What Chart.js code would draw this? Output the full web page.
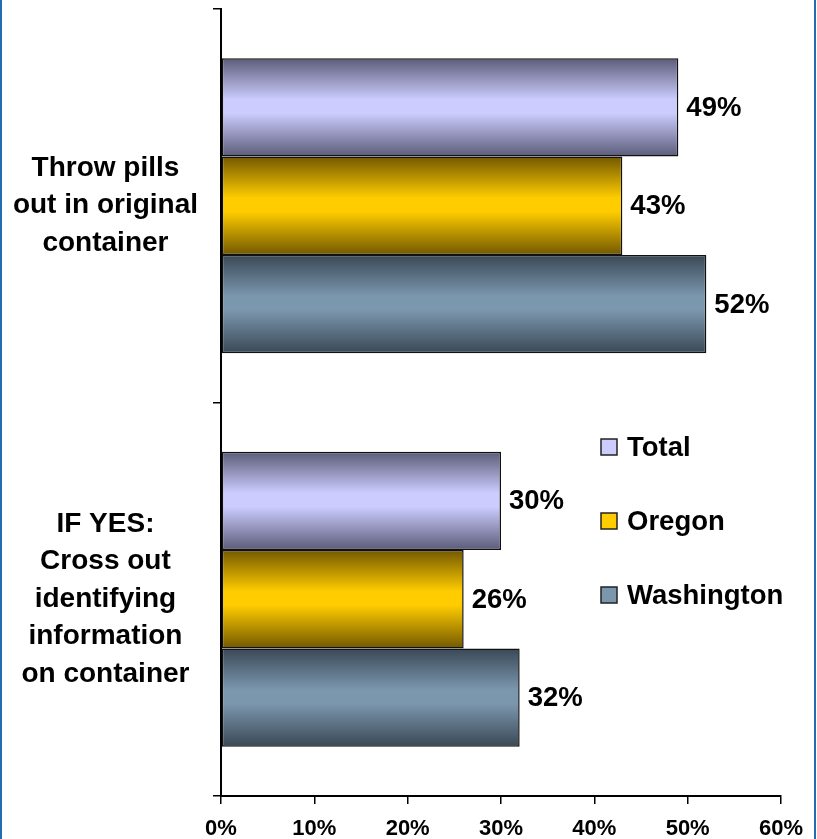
<!DOCTYPE html>
<html><head><meta charset="utf-8">
<script src="https://cdn.jsdelivr.net/npm/chart.js@4"></script>
<style>
html,body{margin:0;padding:0;background:#fff;overflow:hidden;}
#wrap{position:relative;width:817px;height:839px;}
#frame{position:absolute;left:0;top:-5px;width:812px;height:849px;border-left:2px solid #1f6fb2;border-right:2px solid #1f6fb2;pointer-events:none;}
</style></head><body>
<div id="wrap"><canvas id="c" width="817" height="839"></canvas><div id="frame"></div></div>
<script>
const categories = [["Throw pills","out in original","container"],["IF YES:","Cross out","identifying","information","on container"]];
const seriesNames = ["Total","Oregon","Washington"];
const totalValues = [49, 30];
const oregonValues = [43, 26];
const washingtonValues = [52, 32];
const tickLabels = ["0%","10%","20%","30%","40%","50%","60%"];

const FONT = '"Liberation Sans", Arial, sans-serif';
const palette = [
  {edge:'#5b5b78', mid:'#ccccff'},
  {edge:'#725800', mid:'#ffcc00'},
  {edge:'#3a4856', mid:'#7b97ae'}
];

function makeGradient(edge, mid) {
  return (ctx) => {
    const chart = ctx.chart;
    const ys = chart.scales && chart.scales.y;
    if (ctx.type !== 'data' || !ys || !chart.chartArea) return mid;
    const n = chart.data.labels.length;
    const nd = chart.data.datasets.length;
    const cat = (ys.bottom - ys.top) / n;
    const bh = cat * 0.75 / nd;
    const c = ys.getPixelForValue(ctx.dataIndex) + (ctx.datasetIndex - (nd - 1) / 2) * bh;
    const g = chart.ctx.createLinearGradient(0, c - bh / 2, 0, c + bh / 2);
    g.addColorStop(0, edge);
    g.addColorStop(0.42, mid);
    g.addColorStop(0.56, mid);
    g.addColorStop(1, edge);
    return g;
  };
}

const seriesValues = [totalValues, oregonValues, washingtonValues];
const datasets = seriesNames.map((name, i) => ({
  label: name,
  data: seriesValues[i],
  backgroundColor: makeGradient(palette[i].edge, palette[i].mid),
  borderColor: '#111',
  borderWidth: 1.5,
  borderSkipped: false,
  categoryPercentage: 0.75,
  barPercentage: 1.0
}));

const valueLabels = {
  id: 'valueLabels',
  afterDatasetsDraw(chart) {
    const ctx = chart.ctx;
    ctx.save();
    ctx.font = 'bold 27.5px ' + FONT;
    ctx.fillStyle = '#000';
    ctx.textAlign = 'left';
    ctx.textBaseline = 'middle';
    chart.data.datasets.forEach((ds, di) => {
      chart.getDatasetMeta(di).data.forEach((el, i) => {
        ctx.fillText(ds.data[i] + '%', el.x + 8, el.y + 1);
      });
    });
    ctx.restore();
  }
};

const customLegend = {
  id: 'customLegend',
  afterDraw(chart) {
    const ctx = chart.ctx;
    const x0 = 601, y0 = 447, step = 74, s = 16;
    ctx.save();
    ctx.font = 'bold 27.5px ' + FONT;
    ctx.textAlign = 'left';
    ctx.textBaseline = 'middle';
    chart.data.datasets.forEach((ds, i) => {
      const y = y0 + i * step;
      ctx.fillStyle = palette[i].mid;
      ctx.fillRect(x0, y - s / 2, s, s);
      ctx.lineWidth = 1.5;
      ctx.strokeStyle = '#222';
      ctx.strokeRect(x0, y - s / 2, s, s);
      ctx.fillStyle = '#000';
      ctx.fillText(ds.label, x0 + 26, y + 1);
    });
    ctx.restore();
  }
};

function zeroPad(s) { s.paddingTop = 0; s.paddingBottom = 0; s.paddingLeft = 0; s.paddingRight = 0; }

new Chart(document.getElementById('c'), {
  type: 'bar',
  data: { labels: categories, datasets },
  options: {
    indexAxis: 'y',
    responsive: false,
    animation: false,
    events: [],
    layout: { padding: { top: 9, right: 36, left: 0, bottom: 0 } },
    plugins: { legend: { display: false }, tooltip: { enabled: false } },
    scales: {
      x: {
        type: 'linear',
        min: 0, max: 60,
        ticks: {
          stepSize: 10,
          color: '#000',
          padding: 12,
          font: { family: FONT, size: 22, weight: 'bold' },
          callback: (v, idx) => tickLabels[idx]
        },
        grid: { drawOnChartArea: false, drawTicks: true, tickLength: 8, color: '#000', lineWidth: 1.5 },
        border: { display: true, color: '#000', width: 2 },
        afterFit: (s) => { s.height = 43; zeroPad(s); }
      },
      y: {
        type: 'category',
        ticks: {
          color: '#000',
          padding: 15,
          crossAlign: 'center',
          font: { family: FONT, size: 28, weight: 'bold', lineHeight: 1.34 }
        },
        grid: { drawOnChartArea: false, drawTicks: true, tickLength: 8, offset: true, color: '#000', lineWidth: 1.5 },
        border: { display: true, color: '#000', width: 2 },
        afterFit: (s) => { s.width = 221; zeroPad(s); }
      }
    }
  },
  plugins: [valueLabels, customLegend]
});
</script>
</body></html>
